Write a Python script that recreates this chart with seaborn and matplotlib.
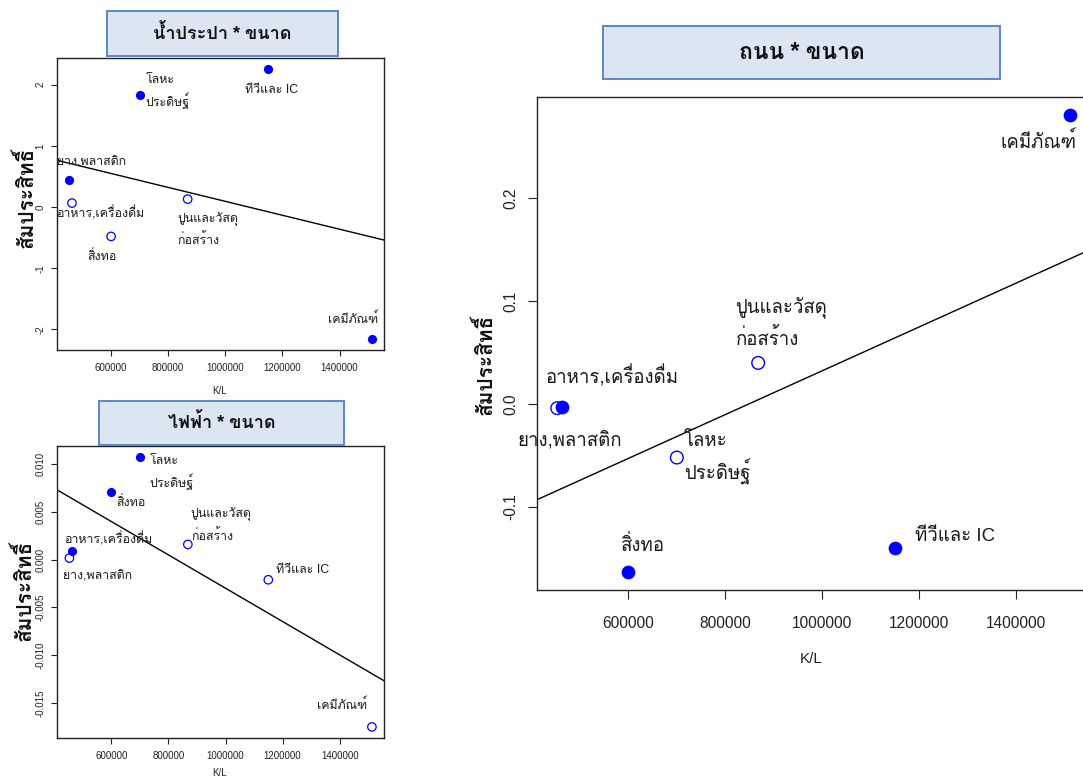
import numpy as np
import pandas as pd
import matplotlib
matplotlib.use("Agg")
import matplotlib.pyplot as plt
import seaborn as sns
from matplotlib import font_manager as fm
from matplotlib.ft2font import FT2Font
from matplotlib.patches import Rectangle
from matplotlib.ticker import FixedLocator, FormatStrFormatter

# ---------------- data ----------------
industries = ["ยาง,พลาสติก", "อาหาร,เครื่องดื่ม", "สิ่งทอ", "โลหะ\nประดิษฐ์",
              "ปูนและวัสดุ\nก่อสร้าง", "ทีวีและ IC", "เคมีภัณฑ์"]
kl = [453000, 463000, 600000, 700000, 868000, 1150000, 1513000]

coef_water = [0.435, 0.065, -0.48, 1.83, 0.13, 2.26, -2.16]
sig_water = [True, False, False, True, False, True, True]

coef_power = [0.00017, 0.0009, 0.0071, 0.0108, 0.0016, -0.0021, -0.0175]
sig_power = [False, True, True, True, False, False, False]

coef_road = [-0.004, -0.0026, -0.163, -0.052, 0.040, -0.140, 0.281]
sig_road = [False, True, True, False, False, True, True]

titles = ["น้ำประปา * ขนาด", "ไฟฟ้า * ขนาด", "ถนน * ขนาด"]
ylabel = "สัมประสิทธิ์"
xlabel = "K/L"
xticks = [600000, 800000, 1000000, 1200000, 1400000]
yticks_water = [-2, -1, 0, 1, 2]
yticks_power = [-0.015, -0.010, -0.005, 0.0, 0.005, 0.010]
yticks_road = [-0.1, 0.0, 0.1, 0.2]

# ---------------- fonts ----------------
def find_thai_fonts():
    found = []
    for f in fm.fontManager.ttflist:
        try:
            cm = FT2Font(f.fname).get_charmap()
        except Exception:
            continue
        if 0x0E2A in cm and 0x0E21 in cm and f.name not in found:
            found.append(f.name)
    return found

thai = find_thai_fonts()
sns.set_style("ticks")
families = ["Liberation Sans"] + thai + ["DejaVu Sans"]
plt.rcParams["font.family"] = families
plt.rcParams["axes.unicode_minus"] = False

DPI = 100
fig = plt.figure(figsize=(10.83, 7.80), dpi=DPI)
W, H = 1083, 780

def axes_px(left, top, right, bottom):
    return fig.add_axes([left / W, 1 - bottom / H, (right - left) / W, (bottom - top) / H])

ax_w = axes_px(57, 58, 384, 350)
ax_p = axes_px(57.3, 445.7, 384, 737.7)
ax_r = axes_px(536.7, 96.7, 1091, 590)

# label layout: (dx, dy of first-line body centre in px, dy down, ha)
layout_small = {
    "water": [(22, -18, "center"), (28, 11, "center"), (-9, 20.7, "center"),
              (6, -15, "left"), (-10, 19.6, "left"), (3, 21, "center"), (-19, -19, "center")],
    "power": [(28, 18.3, "center"), (36, -10.7, "center"), (20, 10.6, "center"),
              (9.6, 4.7, "left"), (3, -30.7, "left"), (34, -10, "center"), (-29.5, -21.3, "center")],
}
layout_road = [(12, 32.7, "center"), (50, -27.7, "center"), (14, -26, "center"),
               (7, -16.3, "left"), (-22.7, -56, "left"), (60, -12, "center"), (-32, 28, "center")]


def padded(v):
    lo, hi = min(v), max(v)
    d = (hi - lo) * 0.04
    return lo - d, hi + d


def draw(ax, coef, sig, yticks, yfmt, msize, open_lw, layout, fs_lab, gap,
         fs_tick, tick_len, xpad, ypad):
    df = pd.DataFrame({"kl": kl, "coef": coef, "sig": sig})
    xl, yl = padded(kl), padded(coef)
    ax.set_xlim(xl)
    ax.set_ylim(yl)
    sns.regplot(data=df, x="kl", y="coef", scatter=False, ci=None, truncate=False,
                color="black", line_kws={"lw": 1.0}, ax=ax)
    sns.scatterplot(data=df[df["sig"]], x="kl", y="coef", color="#0000ff",
                    edgecolor="#0000ff", linewidth=0, s=msize ** 2, ax=ax, zorder=3)
    sns.scatterplot(data=df[~df["sig"]], x="kl", y="coef", color="none",
                    edgecolor="#0000ff", linewidth=open_lw, s=(msize * 0.92) ** 2,
                    ax=ax, zorder=3)
    ax.set_xlim(xl)
    ax.set_ylim(yl)
    h = 0.26 * fs_lab * DPI / 72
    for name, x, y, (dx, dy, ha) in zip(industries, kl, coef, layout):
        for i, line in enumerate(name.split("\n")):
            ax.annotate(line, (x, y), xytext=(dx, -(dy + h + i * gap)),
                        textcoords="offset pixels", ha=ha, va="baseline",
                        fontsize=fs_lab, color="#1a1a1a", annotation_clip=False)
    ax.xaxis.set_major_locator(FixedLocator(xticks))
    ax.xaxis.set_major_formatter(FormatStrFormatter("%d"))
    ax.yaxis.set_major_locator(FixedLocator(yticks))
    ax.yaxis.set_major_formatter(FormatStrFormatter(yfmt))
    ax.tick_params(axis="both", length=tick_len, width=0.8, labelsize=fs_tick,
                   colors="#222222", direction="out")
    ax.tick_params(axis="x", pad=xpad)
    ax.tick_params(axis="y", pad=ypad, labelrotation=90)
    for t in ax.get_yticklabels():
        t.set_va("center")
    for s in ax.spines.values():
        s.set_visible(True)
        s.set_color("#222222")
        s.set_linewidth(1.0)
    ax.set_xlabel("")
    ax.set_ylabel("")


draw(ax_w, coef_water, sig_water, yticks_water, "%d", 6.6, 0.9,
     layout_small["water"], 8.9, 22.4, 7, 4.0, 5.5, 4.3)
draw(ax_p, coef_power, sig_power, yticks_power, "%.3f", 6.6, 0.9,
     layout_small["power"], 8.9, 23.0, 7, 4.0, 5.5, 4.3)
draw(ax_r, coef_road, sig_road, yticks_road, "%.1f", 9.9, 1.0,
     layout_road, 13.4, 33.3, 11.2, 6.7, 12, 6.5)

# axis labels
for ax, xl_pos, yl_pos, fsx in [
    (ax_w, (0.498, -0.140), (-0.098, 0.522), 7),
    (ax_p, (0.498, -0.120), (-0.105, 0.506), 7),
    (ax_r, (0.496, -0.1405), (-0.095, 0.458), 11),
]:
    ax.set_xlabel(xlabel, fontsize=fsx, color="#222222")
    ax.xaxis.set_label_coords(*xl_pos)
    ax.xaxis.label.set_va("center")
    ax.set_ylabel(ylabel, fontsize=15, fontweight="bold", color="#111111")
    ax.yaxis.set_label_coords(*yl_pos)
    ax.yaxis.label.set_va("center")

# title boxes (figure pixel coords)
boxes = [(107.3, 11, 337.7, 55.7), (99, 400.7, 344.3, 445), (603.3, 25.7, 1000, 79.3)]
title_sizes = [13, 13, 16.5]
for (l, t, r, b), ttl, fs in zip(boxes, titles, title_sizes):
    fig.patches.append(Rectangle((l / W, 1 - b / H), (r - l) / W, (b - t) / H,
                                 transform=fig.transFigure, facecolor="#dce6f2",
                                 edgecolor="#5a88c6", linewidth=1.4, zorder=5))
    fig.text((l + r) / 2 / W, 1 - (t + b) / 2 / H, ttl, ha="center", va="center",
             fontsize=fs, fontweight="bold", color="#111111", zorder=6)

fig.savefig("out.png", dpi=DPI)
